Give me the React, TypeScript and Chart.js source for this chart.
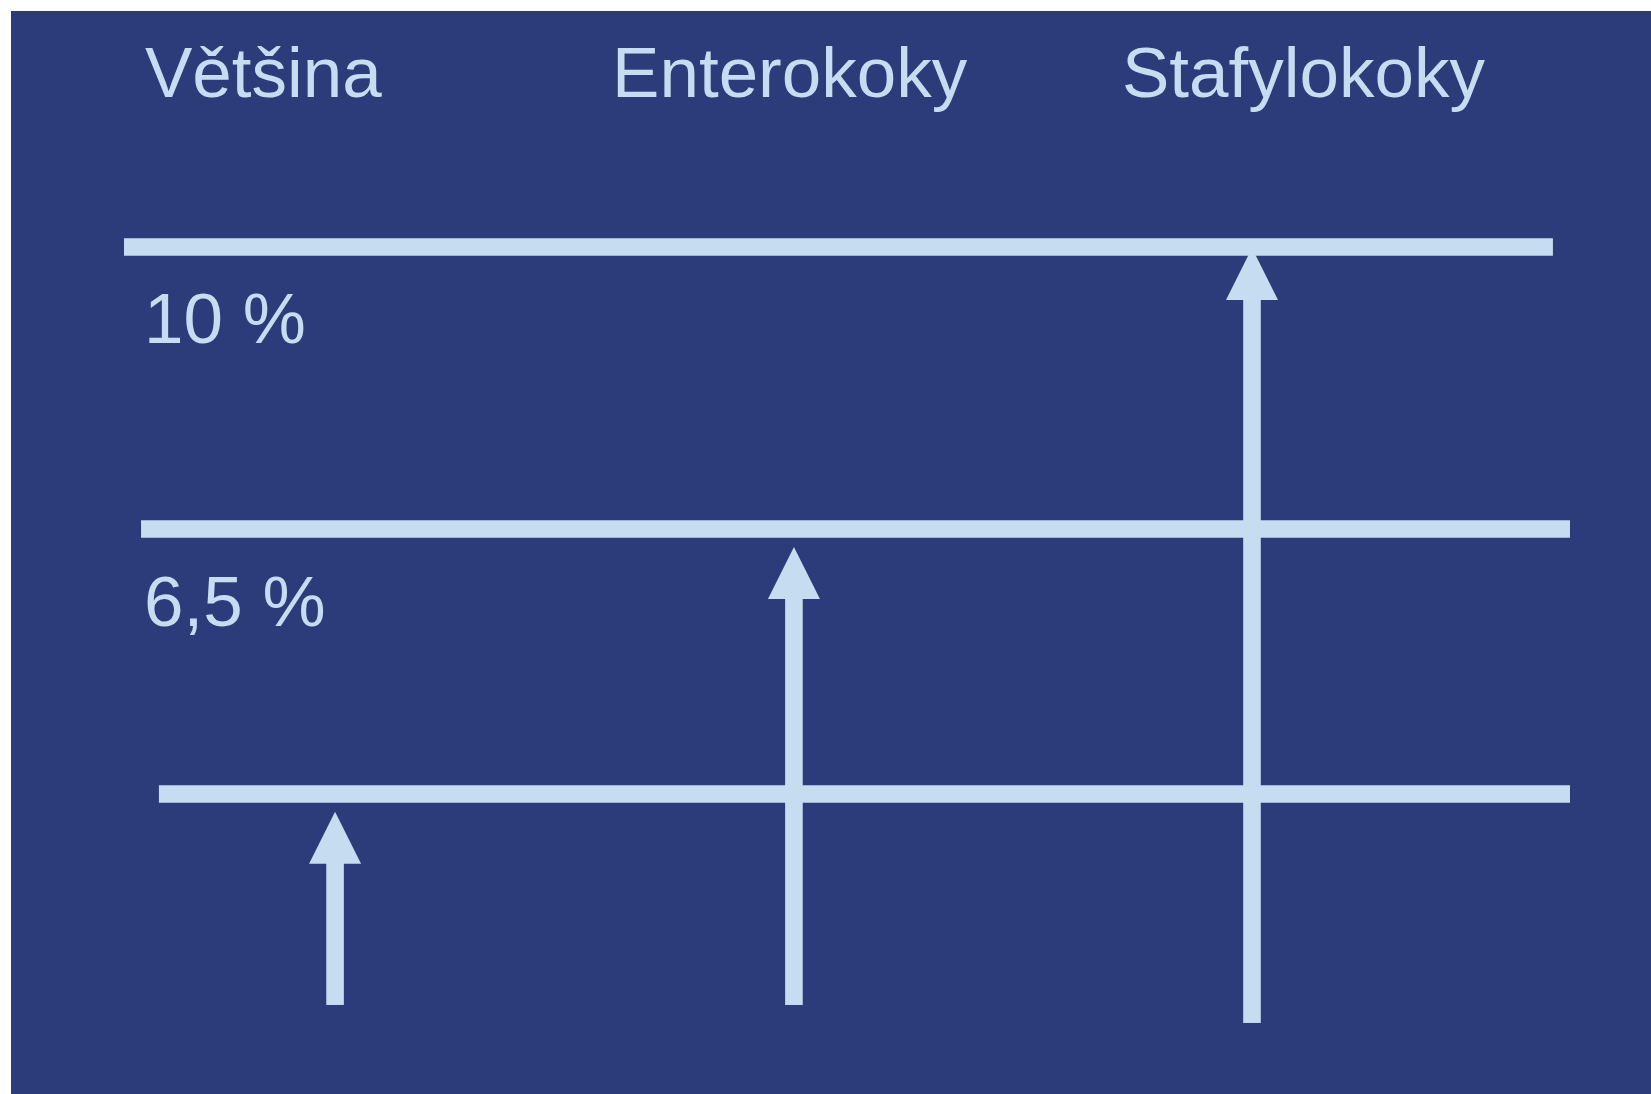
import { useEffect, useRef } from 'react';
import { Chart, registerables } from 'chart.js';

Chart.register(...registerables);

// Column headings (top row)
const categoryLabels = ['Většina', 'Enterokoky', 'Stafylokoky'];
const categoryLabelX = [8.17, 36.65, 67.74];
const categoryLabelY = 92.06;

// Level labels under the horizontal lines
const levelLabels = ['10 %', '6,5 %'];
const levelLabelX = [8.11, 8.11];
const levelLabelY = [69.34, 43.21];

// Horizontal level lines
const levelY = [78.21, 52.17, 27.7];
const levelStartX = [6.89, 7.93, 9.02];
const levelEndX = [94.02, 95.06, 95.06];

// Upward arrows (one per category)
const arrowX = [19.76, 47.74, 75.67];
const arrowBottom = [8.22, 8.22, 6.56];
const arrowTip = [26.07, 50.51, 78.12];

const BG = '#2c3c7a';
const FG = '#c6dcf0';
const FONT = '71px "Liberation Sans", Arial, sans-serif';

const arrowPlugin = {
  id: 'arrowPlugin',
  afterDatasetsDraw(chart: any) {
    const ctx = chart.ctx;
    chart.data.datasets.forEach((ds: any, i: number) => {
      if (!ds.isArrow) return;
      const meta = chart.getDatasetMeta(i);
      const p0 = meta.data[0];
      const p1 = meta.data[1];
      if (!p0 || !p1) return;
      const shaftW = 17.6;
      const headW = 52;
      const headL = 52;
      ctx.save();
      ctx.fillStyle = FG;
      ctx.fillRect(p1.x - shaftW / 2, p1.y + headL - 1, shaftW, p0.y - (p1.y + headL - 1));
      ctx.beginPath();
      ctx.moveTo(p1.x, p1.y);
      ctx.lineTo(p1.x + headW / 2, p1.y + headL);
      ctx.lineTo(p1.x - headW / 2, p1.y + headL);
      ctx.closePath();
      ctx.fill();
      ctx.restore();
    });
  },
};

const textPlugin = {
  id: 'textPlugin',
  afterDatasetsDraw(chart: any) {
    const ctx = chart.ctx;
    const xs = chart.scales.x;
    const ys = chart.scales.y;
    ctx.save();
    ctx.fillStyle = FG;
    ctx.font = FONT;
    ctx.textAlign = 'left';
    ctx.textBaseline = 'alphabetic';
    categoryLabels.forEach((t, i) => {
      ctx.fillText(t, xs.getPixelForValue(categoryLabelX[i]), ys.getPixelForValue(categoryLabelY));
    });
    levelLabels.forEach((t, i) => {
      ctx.fillText(t, xs.getPixelForValue(levelLabelX[i]), ys.getPixelForValue(levelLabelY[i]));
    });
    ctx.restore();
  },
};

export default function App() {
  const ref = useRef<HTMLCanvasElement>(null);

  useEffect(() => {
    document.body.style.margin = '0';
    document.body.style.overflow = 'hidden';
    const canvas = ref.current;
    if (!canvas) return;

    const lineSets = levelY.map((y, i) => ({
      type: 'line' as const,
      data: [
        { x: levelStartX[i], y },
        { x: levelEndX[i], y },
      ],
      borderColor: FG,
      borderWidth: 17.7,
      borderCapStyle: 'butt' as const,
      pointRadius: 0,
      fill: false,
    }));

    const arrowSets = arrowX.map((x, i) => ({
      type: 'line' as const,
      isArrow: true,
      data: [
        { x, y: arrowBottom[i] },
        { x, y: arrowTip[i] },
      ],
      showLine: false,
      pointRadius: 0,
      borderColor: FG,
    }));

    const chart = new Chart(canvas, {
      type: 'line',
      data: { datasets: [...lineSets, ...arrowSets] as any },
      options: {
        animation: false,
        responsive: false,
        devicePixelRatio: 1,
        layout: { padding: 0 },
        parsing: false as any,
        events: [],
        plugins: {
          legend: { display: false },
          tooltip: { enabled: false },
        },
        scales: {
          x: { type: 'linear', min: 0, max: 100, display: false },
          y: { type: 'linear', min: 0, max: 100, display: false },
        },
      },
      plugins: [arrowPlugin, textPlugin],
    });

    return () => chart.destroy();
  }, []);

  return (
    <div
      style={{
        position: 'absolute',
        left: 11,
        top: 11,
        width: 1640,
        height: 1083,
        background: BG,
      }}
    >
      <canvas ref={ref} width={1640} height={1083} style={{ display: 'block' }} />
    </div>
  );
}
